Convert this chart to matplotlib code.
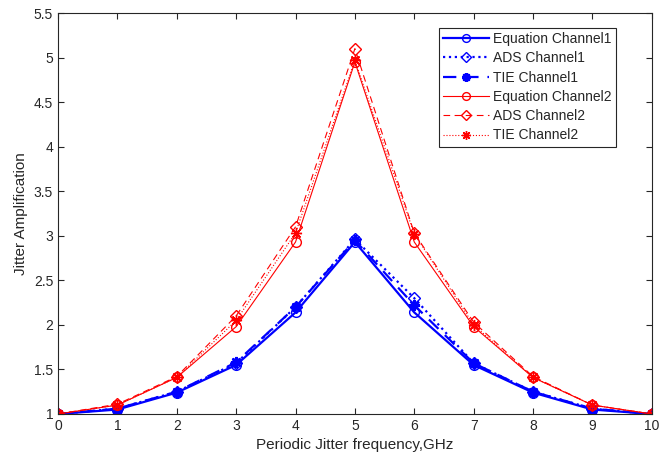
import matplotlib
matplotlib.use("Agg")
import matplotlib.pyplot as plt

plt.rcParams["font.family"] = ["Liberation Sans", "DejaVu Sans"]

# ─── Data ─────────────────────────────────────────────────────────────────────
freq_ghz = [0, 1, 2, 3, 4, 5, 6, 7, 8, 9, 10]

eq_ch1 = [1, 1.05, 1.24, 1.55, 2.14, 2.93, 2.14, 1.55, 1.24, 1.05, 1]
ads_ch1 = [1, 1.06, 1.25, 1.57, 2.20, 2.96, 2.30, 1.57, 1.25, 1.06, 1]
tie_ch1 = [1, 1.06, 1.25, 1.58, 2.20, 2.95, 2.22, 1.57, 1.25, 1.06, 1]

eq_ch2 = [1, 1.10, 1.41, 1.98, 2.93, 4.95, 2.93, 1.98, 1.41, 1.10, 1]
ads_ch2 = [1, 1.11, 1.42, 2.10, 3.10, 5.10, 3.03, 2.03, 1.42, 1.10, 1]
tie_ch2 = [1, 1.10, 1.41, 2.05, 3.03, 4.97, 3.02, 2.00, 1.41, 1.10, 1]

BLUE = "#0000FF"
RED = "#FF0000"
DARK = "#262626"
STAR = (8, 2, 0)   # MATLAB-style asterisk

fig = plt.figure(figsize=(6.62, 4.65), dpi=100)
ax = fig.add_axes([0.0876, 0.1097, 0.897, 0.8623])

ax.plot(freq_ghz, eq_ch1, color=BLUE, ls="-", lw=1.6, marker="o",
        mfc="none", ms=7, label="Equation Channel1")
ax.plot(freq_ghz, ads_ch1, color=BLUE, ls=":", lw=1.6, marker="D",
        mfc="none", ms=6, label="ADS Channel1")
ax.plot(freq_ghz, tie_ch1, color=BLUE, ls=(0, (6, 4)), lw=1.6, marker=STAR,
        ms=8, mew=1.6, label="TIE Channel1")
ax.plot(freq_ghz, eq_ch2, color=RED, ls="-", lw=0.8, marker="o",
        mfc="none", ms=7, label="Equation Channel2")
ax.plot(freq_ghz, ads_ch2, color=RED, ls=(0, (6, 4)), lw=0.8, marker="D",
        mfc="none", ms=6, label="ADS Channel2")
ax.plot(freq_ghz, tie_ch2, color=RED, ls=":", lw=0.8, marker=STAR,
        ms=8, mew=1.0, label="TIE Channel2")

ax.set_xlim(0, 10)
ax.set_ylim(1, 5.5)
ax.set_xticks(range(0, 11))
ax.set_yticks([1, 1.5, 2, 2.5, 3, 3.5, 4, 4.5, 5, 5.5])
ax.set_yticklabels(["1", "1.5", "2", "2.5", "3", "3.5", "4", "4.5", "5", "5.5"])
ax.tick_params(direction="in", top=True, right=True, labelsize=10,
               colors=DARK, length=4)
for sp in ax.spines.values():
    sp.set_color(DARK)
    sp.set_linewidth(0.8)

ax.set_xlabel("Periodic Jitter frequency,GHz", fontsize=11, color=DARK)
ax.set_ylabel("Jitter Amplification", fontsize=11, color=DARK)

leg = ax.legend(loc="upper right", bbox_to_anchor=(0.939, 0.963), fontsize=10,
                handlelength=3.3, borderpad=0.3, labelspacing=0.38,
                handletextpad=0.3, borderaxespad=0, markerscale=0.8,
                fancybox=False, framealpha=1, edgecolor=DARK)
leg.get_frame().set_linewidth(0.8)
for txt in leg.get_texts():
    txt.set_color(DARK)

fig.savefig("out.png", dpi=100)
